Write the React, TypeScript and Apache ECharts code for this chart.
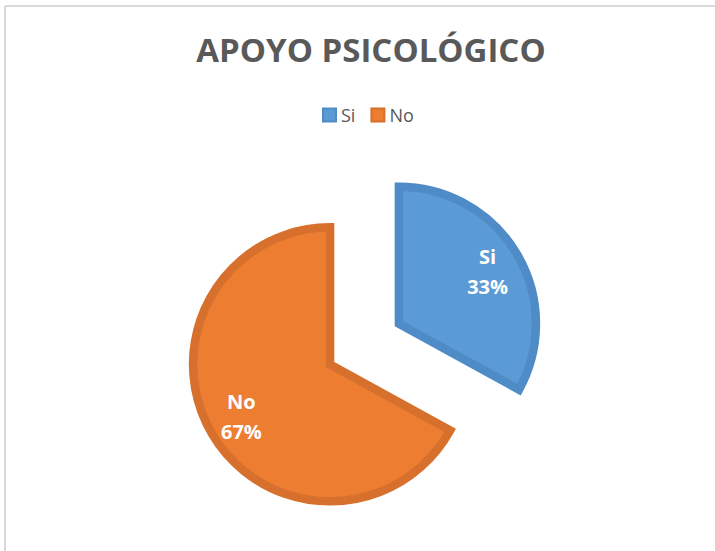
import React, { useEffect, useRef } from "react";
import * as echarts from "echarts";

const titleText = "APOYO PSICOLÓGICO";
const categories = ["Si", "No"];
const values = [33, 67];
const fillColors = ["#5B9BD5", "#ED7D31"];
const borderColors = ["#4F8BC6", "#D6702C"];

export default function App() {
  const ref = useRef<HTMLDivElement>(null);

  useEffect(() => {
    if (!ref.current) return;
    const chart = echarts.init(ref.current, null, { renderer: "svg" });

    const center = [364.5, 344];
    const R = 137;

    const itemStyleFor = (i: number) => ({
      color: fillColors[i],
      borderColor: borderColors[i],
      borderWidth: 8.5,
      borderJoin: "miter",
      borderMiterLimit: 10,
    });

    const mainData = categories.map((name, i) => ({
      name,
      value: values[i],
      selected: true,
      itemStyle: itemStyleFor(i),
      select: { itemStyle: itemStyleFor(i) },
    }));
    const labelData = categories.map((name, i) => ({
      name,
      value: values[i],
      selected: true,
    }));

    chart.setOption({
      animation: false,
      backgroundColor: "#ffffff",
      title: {
        text: titleText,
        left: 366,
        textAlign: "center",
        top: 28,
        textStyle: {
          color: "#595959",
          fontFamily: "Open Sans",
          fontWeight: "bold",
          fontSize: 33,
        },
      },
      legend: {
        data: categories,
        left: 322,
        top: 106,
        padding: 0,
        icon: "rect",
        itemWidth: 13,
        itemHeight: 13,
        itemGap: 15,
        selectedMode: false,
        textStyle: { color: "#595959", fontFamily: "Open Sans", fontSize: 18 },
      },
      graphic: [
        { type: "line", shape: { x1: 5, y1: 6, x2: 5, y2: 551 }, style: { stroke: "#d9d9d9", lineWidth: 2 } },
        { type: "line", shape: { x1: 5, y1: 6, x2: 715, y2: 6 }, style: { stroke: "#d9d9d9", lineWidth: 2 } },
      ],
      series: [
        {
          type: "pie",
          center,
          radius: [0, R],
          startAngle: 90,
          clockwise: true,
          selectedMode: "multiple",
          selectedOffset: 40,
          silent: true,
          emphasis: { disabled: true, scale: false },
          label: { show: false },
          labelLine: { show: false },
          data: mainData,
        },
        {
          type: "pie",
          center,
          radius: [63, R],
          startAngle: 90,
          clockwise: true,
          selectedMode: "multiple",
          selectedOffset: 40,
          silent: true,
          percentPrecision: 0,
          emphasis: { disabled: true, scale: false },
          itemStyle: { color: "rgba(0,0,0,0)", borderWidth: 0 },
          select: { itemStyle: { color: "rgba(0,0,0,0)", borderWidth: 0 } },
          label: {
            show: true,
            position: "inside",
            formatter: "{b}\n{d}%",
            color: "#ffffff",
            fontFamily: "Open Sans",
            fontWeight: "bold",
            fontSize: 20,
            lineHeight: 30,
          },
          labelLine: { show: false },
          data: labelData,
        },
      ],
    });

    return () => {
      chart.dispose();
    };
  }, []);

  return (
    <div
      ref={ref}
      style={{ position: "fixed", left: 0, top: 0, width: 715, height: 551 }}
    />
  );
}
